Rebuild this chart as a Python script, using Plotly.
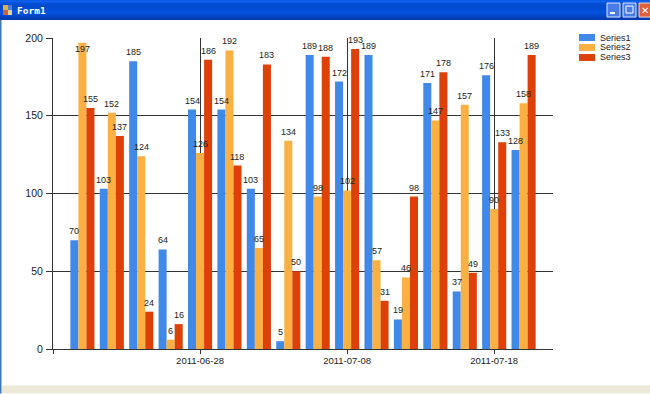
import plotly.graph_objects as go

dates = ["2011-06-20","2011-06-22","2011-06-24","2011-06-26","2011-06-28","2011-06-30",
         "2011-07-02","2011-07-04","2011-07-06","2011-07-08","2011-07-10","2011-07-12",
         "2011-07-14","2011-07-16","2011-07-18","2011-07-20"]
series1 = [70,103,185,64,154,154,103,5,189,172,189,19,171,37,176,128]
series2 = [197,152,124,6,126,192,65,134,98,102,57,46,147,157,90,158]
series3 = [155,137,24,16,186,118,183,50,188,193,31,98,178,49,133,189]
names = ["Series1","Series2","Series3"]
colors = ["#4189E8","#FAB042","#DD4108"]
all_series = [series1, series2, series3]
tick_dates = ["2011-06-18","2011-06-28","2011-07-08","2011-07-18"]
tick_labels = ["","2011-06-28","2011-07-08","2011-07-18"]

W, H = 650, 394
L, R, T, B = 53, 553, 38, 349.5
LABEL_FONT = "Liberation Sans, Arial, sans-serif"

def px(x): return (x - L) / (R - L)
def py(y): return (B - y) / (B - T)

def rect(x0, y0, x1, y1, color, line=None):
    return dict(type="rect", xref="paper", yref="paper", x0=px(x0), x1=px(x1), y0=py(y0), y1=py(y1),
                fillcolor=color, line=dict(color=line or color, width=1 if line else 0), layer="above")

fig = go.Figure()
for name, color, values in zip(names, colors, all_series):
    fig.add_trace(go.Bar(x=dates, y=values, name=name, marker=dict(color=color, line=dict(width=0))))

annotations = []
shifts = {(1, 0): -12}
for s, (values, dx) in enumerate(zip(all_series, [-8, 0, 8])):
    for i, v in enumerate(values):
        annotations.append(dict(x=dates[i], y=v, text=str(v), showarrow=False, xanchor="center", yanchor="bottom",
                                xshift=dx, yshift=shifts.get((s, i), 3), borderpad=0,
                                font=dict(family=LABEL_FONT, size=9, color="#222222")))

shapes = []
bands = ["#0A5AE6","#0D63EE","#0A56E0","#0450D8","#024CD2","#024AD0","#024ACE","#024ACE","#024CD2","#024ED6",
         "#0250DA","#0352DC","#0352DC","#0350D8","#034CD2","#0348CC","#0344C4","#0340BC","#033CB4","#0338AC"]
for i, c in enumerate(bands):
    shapes.append(rect(0, i, W, i + 1, c))
shapes.append(rect(0, 20, 1.5, H, "#3F78B0"))
shapes.append(rect(2, 386, W, H, "#ECE9D8"))
shapes += [rect(3, 5, 8, 10, "#E8B040"), rect(8, 5, 12, 10, "#5080D0"), rect(3, 10, 8, 15, "#D06040"), rect(8, 10, 12, 15, "#E0D0A0")]
shapes += [rect(607, 3, 620, 17, "#4A7CE8", "#DCE6FA"), rect(610, 12, 615, 14, "#FFFFFF"),
           rect(623, 3, 636, 17, "#4A7CE8", "#DCE6FA"), rect(626, 6, 633, 13, "#4A7CE8", "#FFFFFF"),
           rect(639, 3, 651, 17, "#E0603C", "#F5D8CC")]
for (name, color, y0) in zip(names, colors, [34, 44, 54]):
    shapes.append(rect(579, y0, 595, y0 + 7, color))
    annotations.append(dict(xref="paper", yref="paper", x=px(599), y=py(y0 + 3.5), text=name, showarrow=False,
                            xanchor="left", yanchor="middle", borderpad=0,
                            font=dict(family=LABEL_FONT, size=9, color="#222222")))
annotations.append(dict(xref="paper", yref="paper", x=px(16), y=py(10.5), text="<b>Form1</b>", showarrow=False,
                        xanchor="left", yanchor="middle", borderpad=0,
                        font=dict(family="DejaVu Sans Mono", size=9.5, color="#FFFFFF")))
annotations.append(dict(xref="paper", yref="paper", x=px(645), y=py(10), text="<b>✕</b>", showarrow=False,
                        xanchor="center", yanchor="middle", borderpad=0,
                        font=dict(family="DejaVu Sans", size=10, color="#FFFFFF")))

fig.update_layout(
    width=W, height=H, showlegend=False, barmode="group", bargap=0.18, bargroupgap=0,
    margin=dict(l=L, r=W - R, t=T, b=H - B, pad=0),
    paper_bgcolor="#FFFFFF", plot_bgcolor="rgba(0,0,0,0)",
    font=dict(family=LABEL_FONT, size=10, color="#222222"),
    shapes=shapes, annotations=annotations,
    xaxis=dict(type="date", range=["2011-06-18","2011-07-22"], tickmode="array", tickvals=tick_dates, ticktext=tick_labels,
               showgrid=True, gridcolor="#333333", gridwidth=1, zeroline=False,
               showline=True, linecolor="#333333", linewidth=1, ticks="outside", ticklen=4,
               tickcolor="#333333", tickfont=dict(size=9.5), ticklabelstandoff=-1),
    yaxis=dict(range=[0,200], tick0=0, dtick=50, showgrid=True, gridcolor="#333333", gridwidth=1,
               zeroline=False, showline=True, linecolor="#333333", linewidth=1, ticks="outside", ticklen=6,
               tickcolor="#333333", tickfont=dict(size=10.5), ticklabelstandoff=1),
)
fig.write_html("out.html", config=dict(displayModeBar=False),
               post_script="document.body.style.margin='0';document.body.style.overflow='hidden';")
